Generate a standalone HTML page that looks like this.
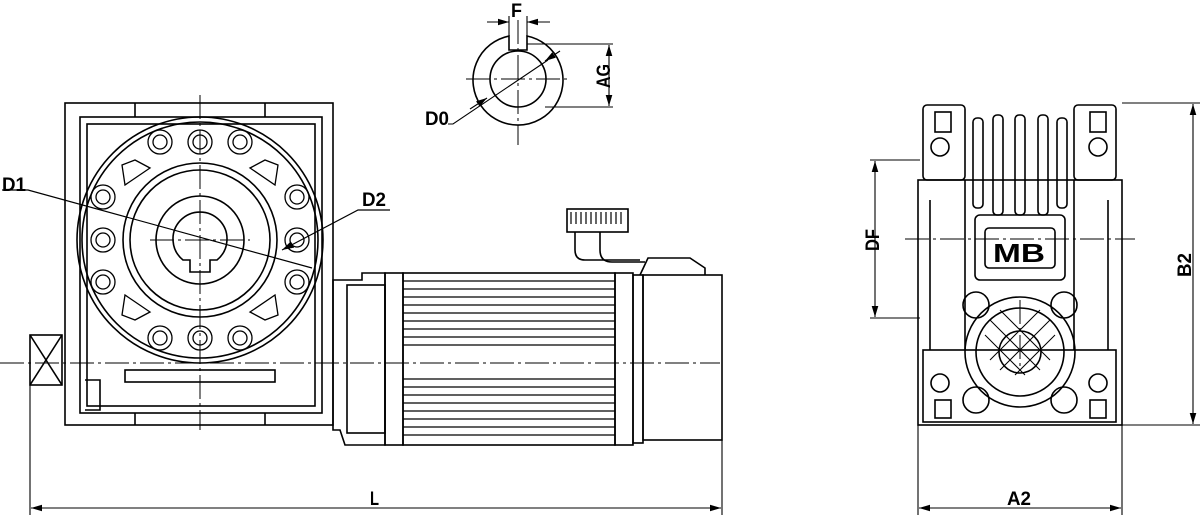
<!DOCTYPE html>
<html><head><meta charset="utf-8"><style>
html,body{margin:0;padding:0;background:#fff;}
svg{display:block}
text{font-family:"Liberation Sans",sans-serif;font-weight:bold;fill:#000}
</style></head><body>
<svg width="1200" height="515" viewBox="0 0 1200 515" xmlns="http://www.w3.org/2000/svg">
<defs>
<marker id="a" viewBox="0 0 10 6" refX="10" refY="3" markerWidth="10" markerHeight="6" orient="auto-start-reverse"><path d="M0,0L10,3L0,6z" fill="#000"/></marker>
</defs>
<g fill="none" stroke="#000" stroke-width="1.6">
<rect x="65" y="103" width="268" height="322"/>
<rect x="80" y="117" width="242" height="296"/>
<rect x="87" y="124" width="228" height="282"/>
<line x1="135" y1="103" x2="135" y2="117"/><line x1="265" y1="103" x2="265" y2="117"/>
<line x1="135" y1="413" x2="135" y2="425"/><line x1="265" y1="413" x2="265" y2="425"/>
<circle cx="200" cy="240" r="123"/>
<circle cx="200" cy="240" r="118"/>
<circle cx="200" cy="240" r="77"/>
<circle cx="200" cy="240" r="70"/>
<circle cx="200" cy="240" r="44"/>
<path d="M183,260 A27,27 0 1 1 217,260 L210,260 L210,272 L190,272 L190,260 Z"/>
<g stroke-width="1.3">
<circle cx="160" cy="142" r="12"/><circle cx="160" cy="142" r="7"/>
<circle cx="200" cy="142" r="12"/><circle cx="200" cy="142" r="7"/>
<circle cx="240" cy="142" r="12"/><circle cx="240" cy="142" r="7"/>
<circle cx="160" cy="338" r="12"/><circle cx="160" cy="338" r="7"/>
<circle cx="200" cy="338" r="12"/><circle cx="200" cy="338" r="7"/>
<circle cx="240" cy="338" r="12"/><circle cx="240" cy="338" r="7"/>
<circle cx="103" cy="197" r="12"/><circle cx="103" cy="197" r="7"/>
<circle cx="103" cy="240" r="12"/><circle cx="103" cy="240" r="7"/>
<circle cx="103" cy="282" r="12"/><circle cx="103" cy="282" r="7"/>
<circle cx="297" cy="197" r="12"/><circle cx="297" cy="197" r="7"/>
<circle cx="297" cy="240" r="12"/><circle cx="297" cy="240" r="7"/>
<circle cx="297" cy="282" r="12"/><circle cx="297" cy="282" r="7"/>
<path d="M122,165 L135,160 L150,168 L125,185 Z"/><path d="M278,165 L265,160 L250,168 L275,185 Z"/>
<path d="M122,315 L135,320 L150,312 L125,295 Z"/><path d="M278,315 L265,320 L250,312 L275,295 Z"/>
</g>
<rect x="125" y="370" width="150" height="12"/>
<path d="M85,380 H100 V410 H85"/>
<rect x="30" y="335" width="32" height="50"/>
<line x1="30" y1="335" x2="62" y2="385"/><line x1="62" y1="335" x2="30" y2="385"/>
<path d="M333,280 H362 V273 H385 V445 H345 L340,430 L333,430 Z"/>
<rect x="347" y="285" width="38" height="148"/>
<rect x="385" y="273" width="18" height="172"/>
<rect x="403" y="273" width="212" height="172"/>
<rect x="615" y="273" width="18" height="172"/>
<rect x="633" y="275" width="10" height="168"/>
<rect x="643" y="275" width="79" height="165"/>
<path d="M640,275 L648,258 H690 L705,268 V275"/>
<rect x="567" y="209" width="61" height="23"/>
<path d="M575,232 V250 Q575,260 585,260 H640"/><path d="M600,232 V250 Q600,262 612,262 H645"/>
</g>
<g stroke="#000" stroke-width="1.2">
<line x1="403" y1="281" x2="615" y2="281"/><line x1="403" y1="289" x2="615" y2="289"/>
<line x1="403" y1="297" x2="615" y2="297"/><line x1="403" y1="305" x2="615" y2="305"/>
<line x1="403" y1="313" x2="615" y2="313"/><line x1="403" y1="321" x2="615" y2="321"/>
<line x1="403" y1="329" x2="615" y2="329"/><line x1="403" y1="337" x2="615" y2="337"/>
<line x1="403" y1="345" x2="615" y2="345"/>
<line x1="403" y1="379" x2="615" y2="379"/><line x1="403" y1="387" x2="615" y2="387"/>
<line x1="403" y1="395" x2="615" y2="395"/><line x1="403" y1="403" x2="615" y2="403"/>
<line x1="403" y1="411" x2="615" y2="411"/><line x1="403" y1="419" x2="615" y2="419"/>
<line x1="403" y1="427" x2="615" y2="427"/><line x1="403" y1="435" x2="615" y2="435"/>
<line x1="571" y1="212" x2="571" y2="224"/><line x1="576" y1="212" x2="576" y2="224"/>
<line x1="581" y1="212" x2="581" y2="224"/><line x1="586" y1="212" x2="586" y2="224"/>
<line x1="591" y1="212" x2="591" y2="224"/><line x1="596" y1="212" x2="596" y2="224"/>
<line x1="601" y1="212" x2="601" y2="224"/><line x1="606" y1="212" x2="606" y2="224"/>
<line x1="611" y1="212" x2="611" y2="224"/><line x1="616" y1="212" x2="616" y2="224"/>
<line x1="621" y1="212" x2="621" y2="224"/>
</g>
<g stroke="#000" stroke-width="1" stroke-dasharray="24,4,3,4" fill="none">
<line x1="0" y1="363" x2="720" y2="363"/>
<line x1="200" y1="95" x2="200" y2="430"/>
<line x1="150" y1="240" x2="250" y2="240"/>
<line x1="518" y1="20" x2="518" y2="145"/>
<line x1="466" y1="79" x2="570" y2="79"/>
<line x1="905" y1="239" x2="1135" y2="239"/>
<line x1="1020" y1="300" x2="1020" y2="370"/>
</g>
<g stroke="#000" stroke-width="1.2" fill="none">
<path d="M2,190 H28 L312,268"/>
<path d="M390,210 H358 L282,250" marker-end="url(#a)"/>
</g>
<text x="2" y="191" font-size="19" textLength="24" lengthAdjust="spacingAndGlyphs">D1</text>
<text x="362" y="206" font-size="19" textLength="24" lengthAdjust="spacingAndGlyphs">D2</text>
<g fill="none" stroke="#000" stroke-width="1.6">
<path d="M509,36 A45,45 0 1 0 527,36 V50 H509 Z"/>
<circle cx="518" cy="79" r="28"/>
</g>
<g stroke="#000" stroke-width="1.1" fill="none">
<line x1="509" y1="16" x2="509" y2="36"/><line x1="527" y1="16" x2="527" y2="36"/>
<line x1="487" y1="22" x2="509" y2="22" marker-end="url(#a)"/><line x1="550" y1="22" x2="527" y2="22" marker-end="url(#a)"/>
<line x1="527" y1="44" x2="613" y2="44"/><line x1="545" y1="107" x2="613" y2="107"/>
<line x1="609" y1="75" x2="609" y2="45" marker-end="url(#a)"/><line x1="609" y1="75" x2="609" y2="106" marker-end="url(#a)"/>
<path d="M448,124 H453 L548,60"/><line x1="470" y1="109" x2="487" y2="98" marker-end="url(#a)"/>
<line x1="560" y1="51" x2="545" y2="61" marker-end="url(#a)"/>
</g>
<text x="511" y="17" font-size="19" textLength="11" lengthAdjust="spacingAndGlyphs">F</text>
<text x="425" y="125" font-size="19" textLength="24" lengthAdjust="spacingAndGlyphs">D0</text>
<text x="0" y="0" font-size="19" textLength="24" lengthAdjust="spacingAndGlyphs" transform="translate(610,88) rotate(-90)">AG</text>
<g fill="none" stroke="#000" stroke-width="1.6">
<rect x="923" y="105" width="42" height="75" rx="4"/>
<rect x="1074" y="105" width="42" height="75" rx="4"/>
<rect x="918" y="180" width="204" height="245"/>
<rect x="923" y="350" width="193" height="72"/>
<path d="M965,180 V350 M1074,180 V350"/>
<rect x="975" y="215" width="90" height="65" rx="5"/>
<rect x="985" y="228" width="70" height="40" rx="4"/>
<circle cx="1020" cy="352" r="55"/>
<circle cx="1020" cy="352" r="44"/>
<circle cx="1020" cy="352" r="21"/>
<circle cx="976" cy="305" r="13"/><circle cx="1064" cy="305" r="13"/>
<circle cx="976" cy="400" r="13"/><circle cx="1064" cy="400" r="13"/>
<circle cx="940" cy="147" r="9"/><circle cx="1098" cy="147" r="9"/>
<circle cx="940" cy="383" r="9"/><circle cx="1098" cy="383" r="9"/>
<rect x="935" y="112" width="16" height="20"/><rect x="1090" y="112" width="16" height="20"/>
<rect x="935" y="400" width="16" height="18"/><rect x="1090" y="400" width="16" height="18"/>
<rect x="993" y="115" width="10" height="100" rx="4"/>
<rect x="1015" y="115" width="10" height="100" rx="4"/>
<rect x="1038" y="115" width="10" height="100" rx="4"/>
<rect x="973" y="118" width="10" height="90" rx="4"/>
<rect x="1057" y="118" width="10" height="90" rx="4"/>
<line x1="930" y1="200" x2="930" y2="350"/><line x1="1108" y1="200" x2="1108" y2="350"/>
</g>
<text x="993" y="262" font-size="26" textLength="52" lengthAdjust="spacingAndGlyphs">MB</text>
<g stroke="#000" stroke-width="1" fill="none">
<path d="M990,320 L1040,370 M985,335 L1025,375 M1000,310 L1050,360 M1050,320 L1000,370 M1055,335 L1015,375 M1040,310 L990,360"/>
</g>
<g stroke="#000" stroke-width="1.1" fill="none">
<line x1="1122" y1="103" x2="1200" y2="103"/><line x1="1122" y1="425" x2="1200" y2="425"/>
<line x1="1193" y1="265" x2="1193" y2="104" marker-end="url(#a)"/><line x1="1193" y1="265" x2="1193" y2="424" marker-end="url(#a)"/>
<line x1="870" y1="160" x2="920" y2="160"/><line x1="870" y1="318" x2="920" y2="318"/>
<line x1="875" y1="240" x2="875" y2="161" marker-end="url(#a)"/><line x1="875" y1="240" x2="875" y2="317" marker-end="url(#a)"/>
<line x1="918" y1="425" x2="918" y2="515"/><line x1="1122" y1="425" x2="1122" y2="515"/>
<line x1="1020" y1="508" x2="919" y2="508" marker-end="url(#a)"/><line x1="1020" y1="508" x2="1121" y2="508" marker-end="url(#a)"/>
<line x1="30" y1="385" x2="30" y2="515"/><line x1="722" y1="440" x2="722" y2="515"/>
<line x1="376" y1="508" x2="31" y2="508" marker-end="url(#a)"/><line x1="376" y1="508" x2="721" y2="508" marker-end="url(#a)"/>
</g>
<text x="1007" y="505" font-size="19" textLength="24" lengthAdjust="spacingAndGlyphs">A2</text>
<text x="370" y="505" font-size="19" textLength="9" lengthAdjust="spacingAndGlyphs">L</text>
<text x="0" y="0" font-size="19" textLength="24" lengthAdjust="spacingAndGlyphs" transform="translate(1191,277) rotate(-90)">B2</text>
<text x="0" y="0" font-size="19" textLength="22" lengthAdjust="spacingAndGlyphs" transform="translate(879,251) rotate(-90)">DF</text>
</svg>
</body></html>
